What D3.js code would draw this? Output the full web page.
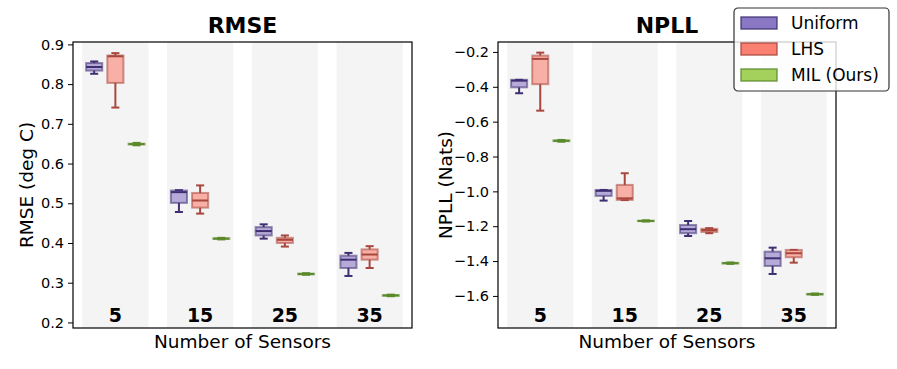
<!DOCTYPE html>
<html>
<head>
<meta charset="utf-8">
<script src="https://cdn.jsdelivr.net/npm/d3@7.9.0/dist/d3.min.js"></script>
<style>
  body { margin: 0; background: #fff; }
  svg { display: block; font-family: "DejaVu Sans", sans-serif; }
</style>
</head>
<body>
<svg id="chart" width="897" height="369"></svg>
<script>
// Categories
const groups = ["5", "15", "25", "35"];
const methods = ["Uniform", "LHS", "MIL (Ours)"];

// Box stats per group: [whiskerLow, q1, median, q3, whiskerHigh]
const rmseUniform = [[0.826, 0.834, 0.843, 0.853, 0.857], [0.478, 0.501, 0.528, 0.532, 0.533], [0.411, 0.419, 0.430, 0.440, 0.447], [0.317, 0.337, 0.358, 0.368, 0.375]];
const rmseLHS = [[0.741, 0.803, 0.870, 0.872, 0.878], [0.474, 0.489, 0.507, 0.526, 0.545], [0.391, 0.400, 0.408, 0.413, 0.419], [0.337, 0.358, 0.371, 0.384, 0.392]];
const rmseMIL = [[0.646, 0.648, 0.649, 0.650, 0.652], [0.409, 0.410, 0.411, 0.412, 0.413], [0.320, 0.321, 0.322, 0.323, 0.324], [0.266, 0.267, 0.268, 0.269, 0.270]];

const npllUniform = [[-0.437, -0.403, -0.365, -0.360, -0.360], [-1.053, -1.026, -0.997, -0.992, -0.992], [-1.256, -1.240, -1.217, -1.193, -1.170], [-1.474, -1.428, -1.384, -1.346, -1.323]];
const npllLHS = [[-0.537, -0.385, -0.240, -0.221, -0.204], [-1.050, -1.049, -1.040, -0.963, -0.896], [-1.240, -1.233, -1.222, -1.215, -1.211], [-1.409, -1.378, -1.355, -1.336, -1.336]];
const npllMIL = [[-0.715, -0.712, -0.710, -0.707, -0.705], [-1.173, -1.171, -1.170, -1.168, -1.166], [-1.416, -1.414, -1.412, -1.410, -1.408], [-1.594, -1.592, -1.590, -1.588, -1.586]];

// Tick labels
const rmseTicks = [0.2, 0.3, 0.4, 0.5, 0.6, 0.7, 0.8, 0.9];
const npllTicks = [-1.6, -1.4, -1.2, -1.0, -0.8, -0.6, -0.4, -0.2];

// Colours: [fill, dark line]
const colors = {
  "Uniform": ["#8a78c4", "#3f2f72"],
  "LHS": ["#fa8072", "#a8473d"],
  "MIL (Ours)": ["#a3d15c", "#5b8a2c"]
};

const svg = d3.select("#chart");

// Offsets of the three boxes inside a group (in group units)
const offset = d3.scalePoint().domain(methods).range([-0.25, 0.25]);

function drawPanel(opts) {
  const { left, right, top, bottom, yDomain, ticks, title, ylabel, ylabelX, series } = opts;
  const g = svg.append("g");

  const x = d3.scaleLinear().domain([-0.5, 3.5]).range([left, right]);
  const y = d3.scaleLinear().domain(yDomain).range([bottom, top]);
  const unit = x(1) - x(0);

  // Grey bands behind each group
  g.selectAll("rect.band")
    .data(groups)
    .join("rect")
    .attr("class", "band")
    .attr("x", (d, i) => x(i - 0.39))
    .attr("width", unit * 0.78)
    .attr("y", top)
    .attr("height", bottom - top)
    .attr("fill", "#f4f4f4");

  // Boxes
  const boxW = unit * 0.19;
  methods.forEach((m, mi) => {
    const [fill, dark] = colors[m];
    series[mi].forEach((s, gi) => {
      const cx = x(gi + offset(m));
      const [lo, q1, med, q3, hi] = s;
      const bg = g.append("g");
      // whiskers
      bg.append("line").attr("x1", cx).attr("x2", cx).attr("y1", y(hi)).attr("y2", y(q3))
        .attr("stroke", dark).attr("stroke-width", 2);
      bg.append("line").attr("x1", cx).attr("x2", cx).attr("y1", y(q1)).attr("y2", y(lo))
        .attr("stroke", dark).attr("stroke-width", 2);
      // caps
      [lo, hi].forEach((v) => {
        bg.append("line")
          .attr("x1", cx - boxW / 4).attr("x2", cx + boxW / 4)
          .attr("y1", y(v)).attr("y2", y(v))
          .attr("stroke", dark).attr("stroke-width", 2);
      });
      // box
      bg.append("rect")
        .attr("x", cx - boxW / 2)
        .attr("width", boxW)
        .attr("y", y(q3))
        .attr("height", Math.max(0.5, y(q1) - y(q3)))
        .attr("fill", fill)
        .attr("fill-opacity", 0.6)
        .attr("stroke", dark)
        .attr("stroke-opacity", 0.55)
        .attr("stroke-width", 2);
      // median
      bg.append("line")
        .attr("x1", cx - boxW / 2).attr("x2", cx + boxW / 2)
        .attr("y1", y(med)).attr("y2", y(med))
        .attr("stroke", dark).attr("stroke-width", 2);
    });
  });

  // Group labels inside the plot
  g.selectAll("text.grp")
    .data(groups)
    .join("text")
    .attr("class", "grp")
    .attr("x", (d, i) => x(i))
    .attr("y", bottom - 6)
    .attr("text-anchor", "middle")
    .attr("font-size", 19)
    .attr("font-weight", "bold")
    .text((d) => d);

  // Y axis
  const axis = g.append("g")
    .attr("transform", `translate(${left},0)`)
    .call(d3.axisLeft(y).tickValues(ticks).tickSize(5).tickPadding(4).tickFormat(d3.format(".1f")));
  axis.select(".domain").remove();
  axis.selectAll("line").attr("stroke", "#000").attr("stroke-width", 1);
  axis.selectAll("text").attr("font-size", 14.5).attr("fill", "#000")
    .attr("font-family", "DejaVu Sans, sans-serif");

  // Frame
  g.append("rect")
    .attr("x", left).attr("y", top)
    .attr("width", right - left).attr("height", bottom - top)
    .attr("fill", "none").attr("stroke", "#000").attr("stroke-width", 1.2);

  // Title and labels
  g.append("text")
    .attr("x", (left + right) / 2).attr("y", top - 9)
    .attr("text-anchor", "middle")
    .attr("font-size", 22).attr("font-weight", "bold")
    .text(title);

  g.append("text")
    .attr("x", (left + right) / 2).attr("y", 348)
    .attr("text-anchor", "middle")
    .attr("font-size", 18.5)
    .text("Number of Sensors");

  g.append("text")
    .attr("transform", `translate(${ylabelX},${(top + bottom) / 2}) rotate(-90)`)
    .attr("text-anchor", "middle")
    .attr("font-size", 18.5)
    .text(ylabel);
}

drawPanel({
  left: 73, right: 412, top: 42, bottom: 328,
  yDomain: [0.186, 0.906], ticks: rmseTicks,
  title: "RMSE", ylabel: "RMSE (deg C)", ylabelX: 33,
  series: [rmseUniform, rmseLHS, rmseMIL]
});

drawPanel({
  left: 498, right: 836, top: 42, bottom: 328,
  yDomain: [-1.784, -0.143], ticks: npllTicks,
  title: "NPLL", ylabel: "NPLL (Nats)", ylabelX: 452,
  series: [npllUniform, npllLHS, npllMIL]
});

// Legend
const legend = svg.append("g").attr("transform", "translate(734,8)");
legend.append("rect")
  .attr("width", 155).attr("height", 83)
  .attr("rx", 4)
  .attr("fill", "#fff").attr("fill-opacity", 0.8)
  .attr("stroke", "#333").attr("stroke-width", 1.2);

methods.forEach((m, i) => {
  const [fill, dark] = colors[m];
  const row = legend.append("g").attr("transform", `translate(0,${15 + i * 26})`);
  row.append("rect")
    .attr("x", 7).attr("y", -6)
    .attr("width", 36).attr("height", 12)
    .attr("fill", fill)
    .attr("stroke", dark).attr("stroke-opacity", 0.8).attr("stroke-width", 1.5);
  row.append("text")
    .attr("x", 57).attr("y", 6)
    .attr("font-size", 17)
    .text(m);
});
</script>
</body>
</html>
